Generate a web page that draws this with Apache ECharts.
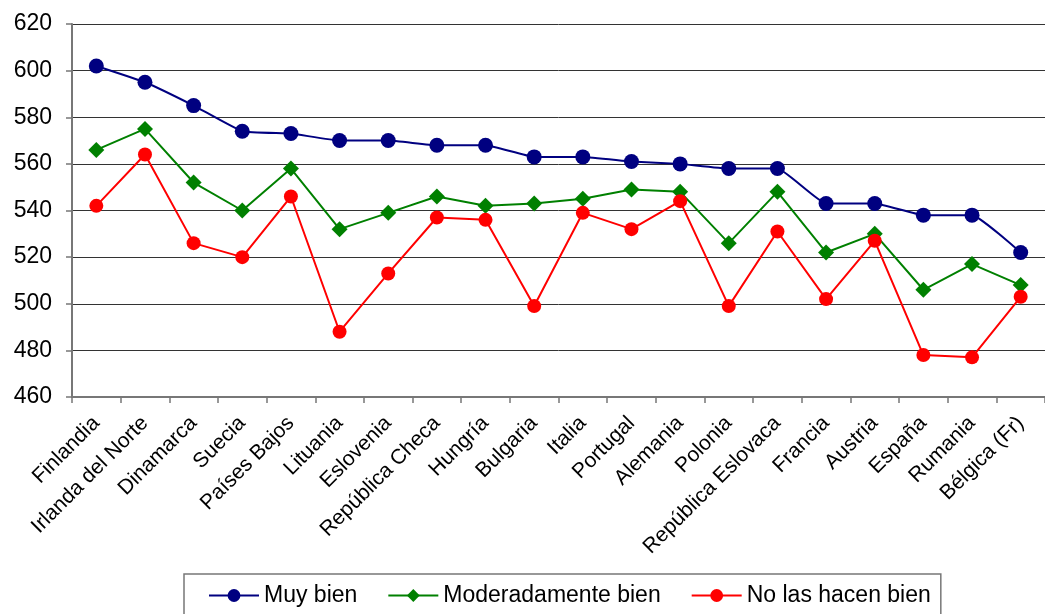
<!DOCTYPE html>
<html><head><meta charset="utf-8">
<script src="https://cdn.jsdelivr.net/npm/echarts@6/dist/echarts.min.js"></script>
<style>html,body{margin:0;padding:0;background:#fff}#c{width:1045px;height:614px}</style>
</head><body><div id="c"></div>
<script>
const categories = ["Finlandia","Irlanda del Norte","Dinamarca","Suecia","Países Bajos","Lituania","Eslovenia","República Checa","Hungría","Bulgaria","Italia","Portugal","Alemania","Polonia","República Eslovaca","Francia","Austria","España","Rumania","Bélgica (Fr)"];
const muyBien = [602,595,585,574,573,570,570,568,568,563,563,561,560,558,558,543,543,538,538,522];
const moderadamente = [566,575,552,540,558,532,539,546,542,543,545,549,548,526,548,522,530,506,517,508];
const noBien = [542,564,526,520,546,488,513,537,536,499,539,532,544,499,531,502,527,478,477,503];
const yTicks = [460,480,500,520,540,560,580,600,620];

const chart = echarts.init(document.getElementById('c'));
const font = '"Liberation Sans", Arial, sans-serif';
chart.setOption({
  animation:false,
  grid:{left:72, top:24, width:985, height:373},
  legend:{
    data:["Muy bien","Moderadamente bien","No las hacen bien"],
    left:184, top:574, padding:[10,10,20,24], itemGap:30,
    borderColor:'#777', borderWidth:1.5,
    itemWidth:50, itemHeight:16,
    textStyle:{fontFamily:font,fontSize:23,color:'#000'}
  },
  xAxis:{
    type:'category', data:categories, boundaryGap:true,
    axisLine:{lineStyle:{color:'#777',width:2}},
    axisTick:{show:true,length:6,lineStyle:{color:'#777',width:1.5}},
    axisLabel:{rotate:45,fontFamily:font,fontSize:21,color:'#000',margin:23,interval:0}
  },
  yAxis:{
    type:'value', min:yTicks[0], max:yTicks[yTicks.length-1], interval:20,
    axisLine:{show:true,lineStyle:{color:'#777',width:2}},
    axisTick:{show:true,length:6,lineStyle:{color:'#777',width:1.5}},
    splitLine:{lineStyle:{color:'#333',width:1}},
    axisLabel:{fontFamily:font,fontSize:23,color:'#000',margin:20}
  },
  series:[
    {name:"Muy bien",type:'line',data:muyBien,symbol:'circle',symbolSize:15,smooth:0.12,
     itemStyle:{color:'#000080'},lineStyle:{color:'#000080',width:2}},
    {name:"Moderadamente bien",type:'line',data:moderadamente,symbol:'diamond',symbolSize:16,
     itemStyle:{color:'#008000'},lineStyle:{color:'#008000',width:2}},
    {name:"No las hacen bien",type:'line',data:noBien,symbol:'circle',symbolSize:14,
     itemStyle:{color:'#ff0000'},lineStyle:{color:'#ff0000',width:2}}
  ]
});
</script></body></html>
